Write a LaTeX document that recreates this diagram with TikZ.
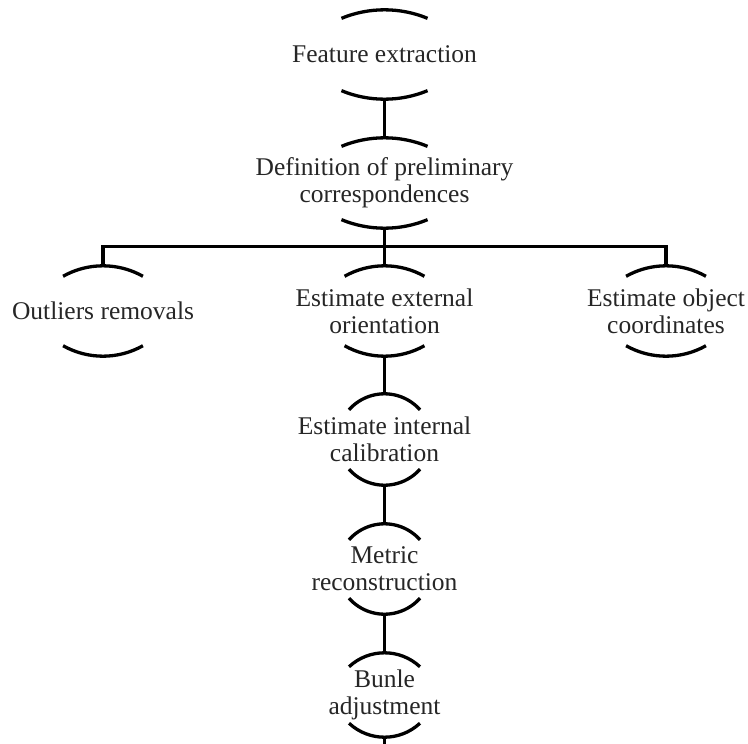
\documentclass[tikz,border=0pt]{standalone}
\usepackage{fontspec}
\setmainfont{Liberation Serif}
\begin{document}
\begin{tikzpicture}[x=1pt,y=-1pt,
  arcline/.style={line width=3.3pt},
  link/.style={line width=3.3pt},
  stage/.style={shape=rectangle,inner sep=0pt,align=center,text=black!85,
    font=\fontsize{25.5}{27}\selectfont},
]
% Circular caps above and below a stage: #1 node, #2 radius, #3 half-angle
\newcommand\stagecaps[3]{%
  \draw[arcline] ([shift={({90+#3}:#2pt)},shift={(0pt,-#2pt)}]#1.north)
    arc[start angle={90+#3}, end angle={90-#3}, radius=#2pt];
  \draw[arcline] ([shift={({270-#3}:#2pt)},shift={(0pt,#2pt)}]#1.south)
    arc[start angle={270-#3}, end angle={270+#3}, radius=#2pt];
}
\useasboundingbox (0,0) rectangle (748,744);

\node[stage,minimum height=89pt] (fe)   at (384.5,54.5) {Feature extraction};
\node[stage,minimum height=90pt] (def)  at (384.5,183)  {Definition of preliminary\\correspondences};
\node[stage,minimum height=90pt] (outl) at (103,311)    {Outliers removals};
\node[stage,minimum height=90pt] (ext)  at (384.5,311)  {Estimate external\\orientation};
\node[stage,minimum height=90pt] (obj)  at (666,311)    {Estimate object\\coordinates};
\node[stage,minimum height=91pt] (int)  at (384.5,439.5){Estimate internal\\calibration};
\node[stage,minimum height=90pt] (met)  at (384.5,569)  {Metric\\reconstruction};
\node[stage,minimum height=84pt] (bun)  at (384.5,695)  {Bunle\\adjustment};

\stagecaps{fe}{113}{22.4}
\stagecaps{def}{113}{22.4}
\stagecaps{outl}{81.4}{29.4}
\stagecaps{ext}{81.4}{29.4}
\stagecaps{obj}{81.4}{29.4}
\stagecaps{int}{47.4}{48.5}
\stagecaps{met}{47.4}{48.5}
\stagecaps{bun}{52}{43}

\coordinate (bar) at (384.5,246.5);
\coordinate (tail) at (384.5,744);

\draw[link] (fe.south) -- (def.north);
\draw[link] (def.south) -- (ext.north);
\draw[link] (outl.north) -- (outl.north |- bar) -- (obj.north |- bar) -- (obj.north);
\draw[link] (ext.south) -- (int.north);
\draw[link] (int.south) -- (met.north);
\draw[link] (met.south) -- (bun.north);
\draw[link] (bun.south) -- (tail);
\end{tikzpicture}
\end{document}
